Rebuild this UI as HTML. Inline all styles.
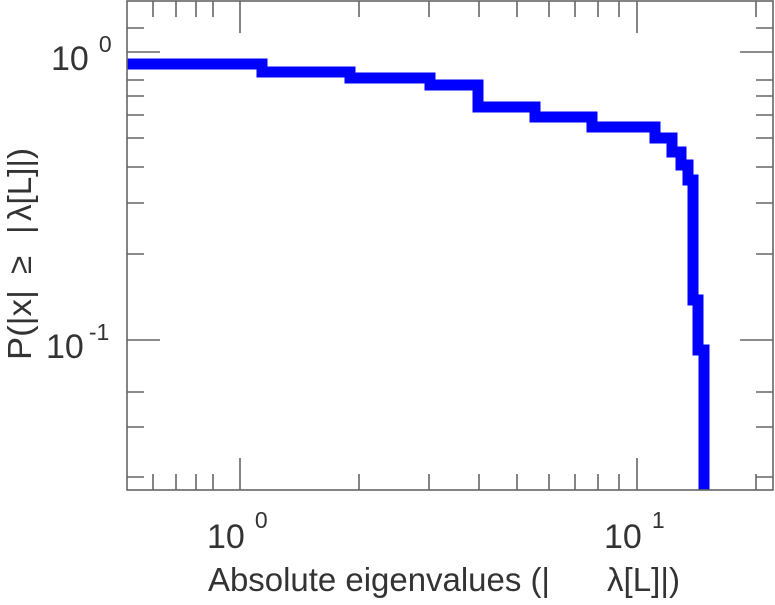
<!DOCTYPE html>
<html><head><style>body{margin:0;background:#fff}</style></head><body>
<svg width="775" height="600" xmlns="http://www.w3.org/2000/svg" font-family="Liberation Sans, sans-serif" fill="#333">
<defs><clipPath id="c"><rect x="127" y="1" width="646" height="489"/></clipPath></defs>
<path clip-path="url(#c)" d="M118,64 H262 V72 H350 V78 H430 V85 H478 V107 H535 V117 H592 V127 H655 V138 H672 V152 H681 V165 H688 V180 H693 V300 H698 V350 H704 V500" fill="none" stroke="#0000ff" stroke-width="11" stroke-linejoin="miter"/>
<g stroke="#666" stroke-width="1.6" fill="none">
<rect x="127" y="1" width="646" height="489"/>
<path d="
M240,490V458 M637,490V458 M240,1V33 M637,1V33
M153,490V474 M176,490V474 M196,490V474 M213,490V474
M359,490V474 M429,490V474 M479,490V474 M517,490V474 M549,490V474 M575,490V474 M598,490V474 M619,490V474 M756,490V474
M153,1V17 M176,1V17 M196,1V17 M213,1V17
M359,1V17 M429,1V17 M479,1V17 M517,1V17 M549,1V17 M575,1V17 M598,1V17 M619,1V17 M756,1V17
M127,52H160 M127,340H160 M773,52H740 M773,340H740
M127,28H144 M127,80H144 M127,96H144 M127,115H144 M127,138H144 M127,167H144 M127,203H144 M127,254H144
M127,427H144 M127,477H144 M127,392H144
M773,28H756 M773,80H756 M773,96H756 M773,115H756 M773,138H756 M773,167H756 M773,203H756 M773,254H756
M773,427H756 M773,477H756 M773,392H756
"/>
</g>
<g font-size="34" fill="#333">
<text x="207" y="548">10<tspan font-size="23" dx="10" dy="-20">0</tspan></text>
<text x="604" y="548">10<tspan font-size="23" dx="10" dy="-20">1</tspan></text>
<text x="51" y="70">10<tspan font-size="23" dx="10" dy="-18">0</tspan></text>
<text x="46" y="358">10<tspan font-size="23" dx="5" dy="-18">-1</tspan></text>
</g>
<g font-size="33" fill="#333">
<text x="208" y="591" textLength="342" lengthAdjust="spacingAndGlyphs">Absolute eigenvalues (|</text>
<text x="607" y="591" textLength="73" lengthAdjust="spacingAndGlyphs">λ[L]|)</text>
</g>
<g font-size="33" fill="#333">
<text transform="translate(31,360) rotate(-90)" textLength="70" lengthAdjust="spacingAndGlyphs">P(|x|</text>
<text transform="translate(31,274) rotate(-90)">≥</text>
<text transform="translate(31,234) rotate(-90)">|</text>
<text transform="translate(31,221) rotate(-90)" textLength="73" lengthAdjust="spacingAndGlyphs">λ[L]|)</text>
</g>
</svg>
</body></html>
